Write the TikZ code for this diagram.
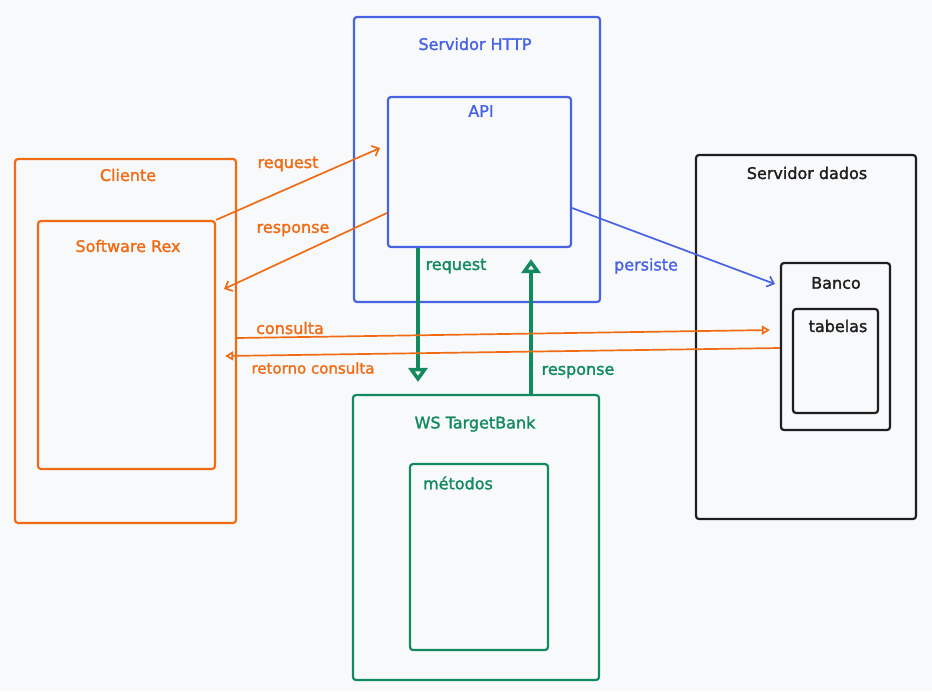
\documentclass[tikz,border=0pt]{standalone}
\usepackage{fontspec}
\setmainfont{DejaVu Sans}
\newfontfamily\fonterot{DejaVu Sans}[FakeBold = 1.6]
\usepackage{tikz}
\usetikzlibrary{calc}
\usetikzlibrary{arrows.meta}
\usetikzlibrary{positioning}
\definecolor{laranja}{RGB}{240,108,20}
\definecolor{azul}{RGB}{72,98,228}
\definecolor{verde}{RGB}{18,138,94}
\definecolor{preto}{RGB}{30,30,30}
\definecolor{fundo}{RGB}{248,249,251}
\tikzset{>=latex}
\tikzstyle{caixa} = [draw, line width = 2.2pt, rounded corners = 3pt, inner sep = 0]
\tikzstyle{rotulo} = [draw = none, inner sep = 1, font = \fonterot\fontsize{16}{19}\selectfont]
\tikzstyle{seta} = [line width = 1.7pt, -{Straight Barb[length = 6pt, width = 11pt]}]
\tikzstyle{setab} = [line width = 1.7pt, -{Triangle[open, length = 8pt, width = 9pt]}]
\tikzstyle{grossa} = [line width = 4.5pt, -{Triangle[open, length = 14pt, width = 19pt, line width = 3.5pt]}]

\begin{document}
\begin{tikzpicture}[x = 1pt, y = -1pt]
\fill [fundo] (0, 0) rectangle (932, 691);
\useasboundingbox (0, 0) rectangle (932, 691);
% caixas
\node [caixa, draw = laranja, minimum width = 221pt, minimum height = 364pt] (cli) at (125.5, 341) {};
\node [caixa, draw = laranja, minimum width = 177pt, minimum height = 248pt] (rex) at (126.5, 345) {};
\node [caixa, draw = azul, minimum width = 246pt, minimum height = 285pt] (http) at (477, 159.5) {};
\node [caixa, draw = azul, minimum width = 183pt, minimum height = 150pt] (api) at (479.5, 172) {};
\node [caixa, draw = verde, minimum width = 246pt, minimum height = 285pt] (ws) at (476, 537.5) {};
\node [caixa, draw = verde, minimum width = 138pt, minimum height = 186pt] (met) at (479, 557) {};
\node [caixa, draw = preto, minimum width = 220pt, minimum height = 364pt] (dados) at (806, 337) {};
\node [caixa, draw = preto, minimum width = 109pt, minimum height = 167pt] (banco) at (835.5, 346.5) {};
\node [caixa, draw = preto, minimum width = 85pt, minimum height = 104pt] (tab) at (835.5, 361) {};
% textos das caixas
\node [rotulo, text = laranja] (tcli) at (128, 175) {Cliente};
\node [rotulo, text = laranja] (trex) at (128, 246) {Software Rex};
\node [rotulo, text = azul] (thttp) at (475, 44) {Servidor HTTP};
\node [rotulo, text = azul] (tapi) at (481, 111) {API};
\node [rotulo, text = verde] (tws) at (475, 424) {WS TargetBank};
\node [rotulo, text = verde] (tmet) at (458, 483) {métodos};
\node [rotulo, text = preto] (tdados) at (807, 173) {Servidor dados};
\node [rotulo, text = preto] (tbanco) at (836, 283) {Banco};
\node [rotulo, text = preto] (ttab) at (838, 326) {tabelas};
% pontas soltas
\coordinate (fimreq) at (380, 148);
\coordinate (fimres) at (224, 289);
% conexoes
\draw [seta, draw = laranja] (rex.north east) to (fimreq);
\draw [seta, draw = laranja] ([yshift = -41pt]api.west) to (fimres);
\draw [grossa, draw = verde] ([xshift = -61.5pt]api.south) to ([xshift = -58pt, yshift = 12pt]ws.north);
\draw [grossa, draw = verde] ([xshift = 55pt]ws.north) to ([xshift = 51.5pt, yshift = -11pt]api.south);
\draw [seta, draw = azul] ([yshift = -36pt]api.east) to ([xshift = -5pt, yshift = 62.5pt]banco.west);
\draw [setab, draw = laranja] ([yshift = 3pt]cli.east) to ([xshift = -10pt, yshift = 16.5pt]banco.west);
\draw [setab, draw = laranja] ([yshift = -1.5pt]banco.west) to ([xshift = 9pt, yshift = -11pt]rex.east);
% textos das conexoes
\node [rotulo, text = laranja] (lreq) at (288, 164) {request};
\node [rotulo, text = laranja] (lres) at (293, 230) {response};
\node [rotulo, text = verde] (lreqv) at (456, 266) {request};
\node [rotulo, text = verde] (lresv) at (578, 372) {response};
\node [rotulo, text = azul] (lper) at (646, 266) {persiste};
\node [rotulo, text = laranja] (lcon) at (290, 328) {consulta};
\node [rotulo, text = laranja, font = \fonterot\fontsize{15}{18}\selectfont] (lret) at (313, 368) {retorno consulta};
\end{tikzpicture}
\end{document}
